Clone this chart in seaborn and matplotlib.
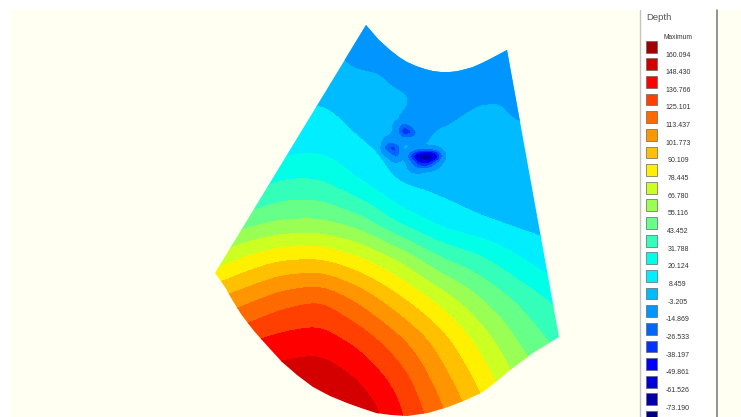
import matplotlib.pyplot as plt
import numpy as np
import pandas as pd
import seaborn as sns

# legend, top to bottom
depth_levels = [160.094, 148.430, 136.766, 125.101, 113.437, 101.773, 90.109, 78.445,
                66.780, 55.116, 43.452, 31.788, 20.124, 8.459, -3.205, -14.869,
                -26.533, -38.197, -49.861, -61.526, -73.190]
level_labels = ["160.094", "148.430", "136.766", "125.101", "113.437", "101.773", "90.109",
                "78.445", "66.780", "55.116", "43.452", "31.788", "20.124", "8.459", "-3.205",
                "-14.869", "-26.533", "-38.197", "-49.861", "-61.526", "-73.190"]
band_colors = ["#a00000", "#d40000", "#ff0000", "#ff4000", "#ff6a00", "#ff9500", "#ffc000",
               "#fff000", "#ccff22", "#99ff55", "#66ff88", "#33ffbb", "#00ffe6", "#00eeff",
               "#00bbff", "#0095ff", "#0066ff", "#0033ff", "#0000ff", "#0000d8", "#0000a8",
               "#000080"]

# depth on a coarse grid (image pixels)
grid_x = [200, 240, 280, 320, 360, 400, 440, 480, 520, 560, 600]
grid_y = [20, 60, 100, 140, 180, 220, 260, 300, 340, 380, 420]
depth = [
    [0, 0, 1, 2, 2, 2, 2, 2, 2, 2, 2],
    [0, 0, 2, 2, 2, 2, 2, 2, 2, 2, 2],
    [0, 0, 5, 8, 3, 2, 2, 2, 2, 2, 2],
    [2, 5, 12, 15, 8, 3, 2, 2, 2, 2, 2],
    [15, 20, 32, 32, 19, 5, 4, 3, 1, 1, 1],
    [35, 47, 54, 55, 47, 27, 14, 8, 4, 3, 1],
    [65, 80, 90, 91, 81, 66, 45, 35, 21, 10, 6],
    [100, 109, 120, 126, 111, 93, 75, 56, 41, 28, 20],
    [125, 134, 141, 143, 133, 116, 96, 74, 53, 39, 30],
    [150, 155, 155, 158, 148, 132, 108, 87, 64, 50, 40],
    [165, 170, 165, 168, 160, 140, 118, 97, 72, 58, 50],
]

# shallower shelf at the top of the fan
shelf_x = [340, 360, 380, 400, 420, 440, 460, 480, 500, 520]
shelf_y = [20, 40, 60, 80, 100, 120, 140, 160]
shelf_depth = [
    [-9, -9, -9, -9, -9, -9, -9, -9, -9, -9],
    [-9, -9, -9, -9, -9, -9, -9, -9, -9, -9],
    [-1, -9, -9, -9, -9, -9, -9, -9, -9, -9],
    [4, 4, -1, -8, -9, -9, -9, -9, -9, -9],
    [4, 4, 4, 2, -9, -9, -9, -5, -4, -9],
    [4, 4, 4, -5, -9, -7, -2, 3, 1, -4],
    [4, 4, 4, 3, -8, 3, 4, 4, 4, 4],
    [4, 4, 4, 4, 4, 4, 4, 4, 4, 4],
]

# the three pits
pit_x = [380, 388, 396, 404, 412, 420, 428, 436, 444, 452]
pit_y = [116, 124, 132, 140, 148, 156, 164, 172, 180]
pit_depth = [
    [2, 2, 2, 2, 2, 2, 2, 2, 2, 2],
    [2, 2, -6, -20, -8, 2, 2, 2, 2, 2],
    [2, 2, -8, -40, -30, -6, 2, 2, 2, 2],
    [2, -10, -3, -6, -8, -5, 2, 2, 2, 2],
    [2, -32, -34, 2, -4, -6, -5, -4, 2, 2],
    [2, -3, -22, -2, -36, -75, -85, -60, -5, 2],
    [2, 2, 2, 2, -14, -36, -38, -12, 2, 2],
    [2, 2, 2, 2, -3, -3, 2, 2, 2, 2],
    [2, 2, 2, 2, 2, 2, 2, 2, 2, 2],
]

# outline of the surveyed fan
outline_x = [366, 378, 390, 399, 407, 416, 425, 433, 441, 450, 458, 466, 473, 482, 490, 507,
             559, 546, 533, 521, 510, 497, 483, 466, 448, 428, 407, 391, 376, 361, 347, 330,
             313, 297, 282, 271, 262, 254, 247, 241, 236, 230, 225, 220, 215]
outline_y = [25, 39, 50, 57, 62, 66, 69, 71, 72, 72, 71, 69, 67, 63, 59, 50,
             337, 345, 353, 362, 370, 381, 392, 400, 407, 413, 416, 415, 413, 408, 403, 396,
             387, 375, 362, 350, 340, 331, 322, 314, 306, 296, 287, 280, 273]


def refine(xs, ys, values, step=4, passes=2):
    # resample to a finer grid and soften it a little, so the bands are not kinked
    values = np.array(values, dtype=float)
    fine_x = np.arange(xs[0], xs[-1] + step, step)
    fine_y = np.arange(ys[0], ys[-1] + step, step)
    by_col = np.array([np.interp(fine_y, ys, values[:, i]) for i in range(len(xs))]).T
    fine = np.array([np.interp(fine_x, xs, row) for row in by_col])
    kernel = np.ones(5) / 5
    for _ in range(passes):
        padded = np.pad(fine, 2, mode="edge")
        padded = np.apply_along_axis(lambda r: np.convolve(r, kernel, mode="same"), 0, padded)
        padded = np.apply_along_axis(lambda r: np.convolve(r, kernel, mode="same"), 1, padded)
        fine = padded[2:-2, 2:-2]
    return fine_x, fine_y, fine


sns.set_theme(style="white")
plt.rcParams["font.family"] = ["Liberation Sans", "DejaVu Sans"]

fig = plt.figure(figsize=(7.41, 4.17), dpi=100, facecolor="white")
ax = fig.add_axes([0, 0, 1, 1])
ax.set_xlim(0, 741)
ax.set_ylim(417, 0)
ax.axis("off")

ax.add_patch(plt.Rectangle((10, 10), 731, 407, color="#fffff2", zorder=0))

fan = plt.Polygon(list(zip(outline_x, outline_y)), closed=True, transform=ax.transData,
                  facecolor="none", edgecolor="none")
ax.add_patch(fan)

levels = depth_levels[::-1]
colors = band_colors[::-1]

x, y, z = refine(grid_x, grid_y, depth, passes=3)
bands = ax.contourf(x, y, z, levels=[-85] + levels + [172], colors=colors, zorder=1)
bands.set_clip_path(fan)

x, y, z = refine(shelf_x, shelf_y, shelf_depth, step=2)
shelf = ax.contourf(x, y, z, levels=[-14.869, -3.205], colors=["#0095ff"], extend="min", zorder=2)
shelf.set_clip_path(fan)

x, y, z = refine(pit_x, pit_y, pit_depth, step=1)
pit_levels = [-73.190, -61.526, -49.861, -38.197, -26.533, -14.869, -3.205]
pits = ax.contourf(x, y, z, levels=pit_levels,
                   colors=["#0000a8", "#0000d8", "#0000ff", "#0033ff", "#0066ff", "#0095ff"],
                   extend="min", zorder=3)
pits.set_clip_path(fan)

# legend panel
ax.add_patch(plt.Rectangle((640, 10), 76, 407, facecolor="white", edgecolor="none", zorder=4))
ax.plot([640, 640], [10, 417], color="#c4c4c4", lw=1.0, zorder=5)
ax.plot([716.5, 716.5], [10, 417], color="#808080", lw=1.2, zorder=5)
ax.text(646, 17, "Depth", fontsize=6.8, color="#555555", va="center", zorder=6)
ax.text(678, 37, "Maximum", fontsize=4.8, color="#333333", ha="center", va="center", zorder=6)

swatches = pd.DataFrame({"x": 651.5, "y": 46.7 + 17.63 * np.arange(len(band_colors)),
                         "band": range(len(band_colors))})
sns.scatterplot(data=swatches, x="x", y="y", hue="band", palette=band_colors, marker="s", s=72,
                edgecolor="#666666", linewidth=0.5, legend=False, ax=ax, zorder=6, clip_on=True)
ax.set_xlim(0, 741)
ax.set_ylim(417, 0)
ax.set_xlabel("")
ax.set_ylabel("")

for i, label in enumerate(level_labels):
    ax.text(678, 55 + 17.66 * i, label, fontsize=5, color="#333333", ha="center", va="center",
            zorder=6)

fig.savefig("out.png", dpi=100)
